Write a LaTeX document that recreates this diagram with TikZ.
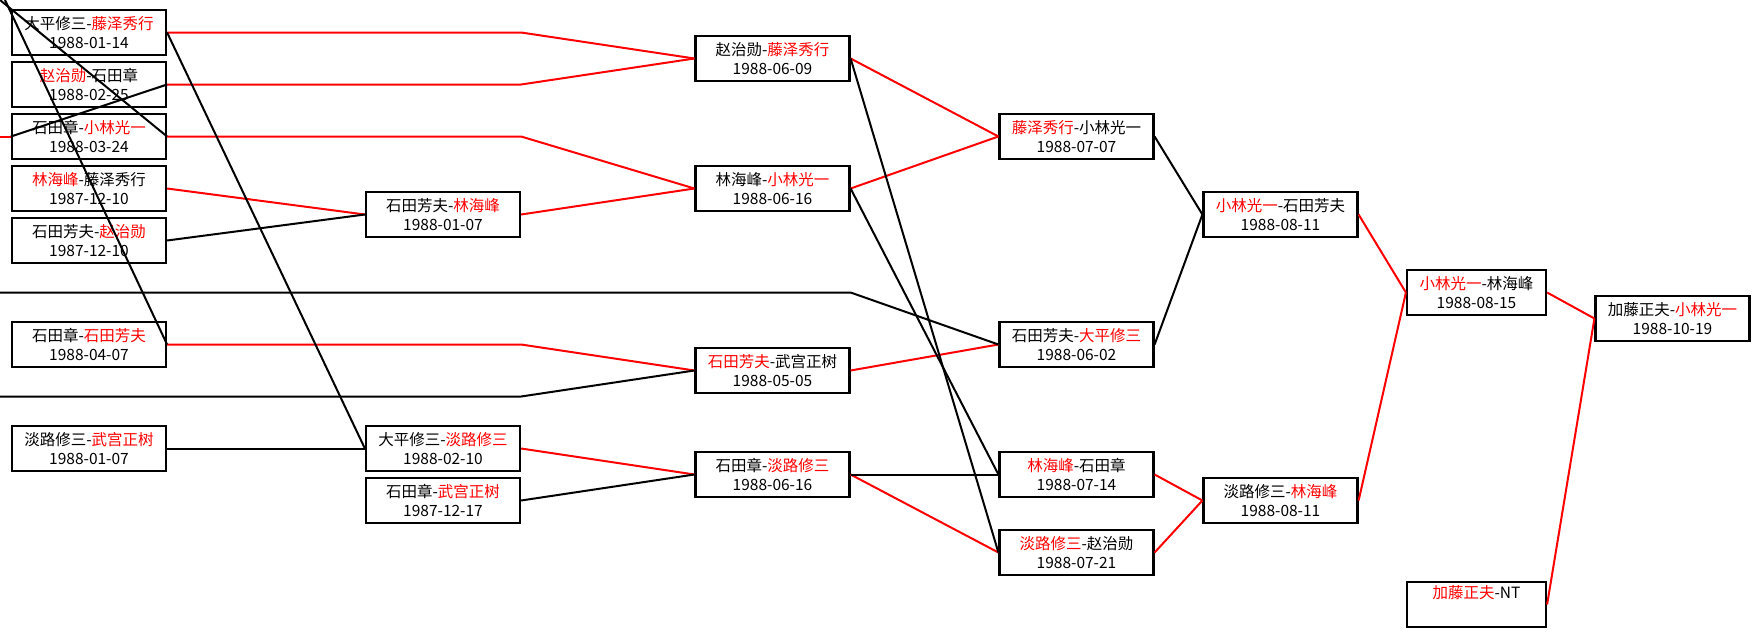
\documentclass[tikz,border=0pt]{standalone}
\usepackage{fontspec}
\setmainfont{Noto Sans CJK SC}
\usepackage{xcolor}
\usetikzlibrary{positioning}

\newcommand{\wn}[1]{\textcolor{red}{#1}}

\begin{document}
\begin{tikzpicture}[x=1pt, y=-1pt,
  game/.style={draw, line width=2.2pt, minimum width=154pt, minimum height=45pt, inner sep=0pt, align=center, font=\fontsize{15.5}{19}\selectfont},
  shortgame/.style={game, minimum width=139pt},
  win/.style={draw=red, line width=2pt},
  lose/.style={draw=black, line width=2pt},
]
\fill[white] (0,0) rectangle (1760,637);
\useasboundingbox (0,0) rectangle (1760,637);

% Column 1
\node[game] (a1) at (89,32.5) {大平修三-\wn{藤泽秀行}\\1988-01-14};
\node[game] (a2) at (89,84.5) {\wn{赵治勋}-石田章\\1988-02-25};
\node[game] (a3) at (89,136.5) {石田章-\wn{小林光一}\\1988-03-24};
\node[game] (a4) at (89,188.5) {\wn{林海峰}-藤泽秀行\\1987-12-10};
\node[game] (a5) at (89,240.5) {石田芳夫-\wn{赵治勋}\\1987-12-10};
\node[game] (a6) at (89,344.5) {石田章-\wn{石田芳夫}\\1988-04-07};
\node[game] (a7) at (89,448.5) {淡路修三-\wn{武宫正树}\\1988-01-07};

% Column 2
\node[game] (b1) at (443,214.5) {石田芳夫-\wn{林海峰}\\1988-01-07};
\node[game] (b2) at (443,448.5) {大平修三-\wn{淡路修三}\\1988-02-10};
\node[game] (b3) at (443,500.5) {石田章-\wn{武宫正树}\\1987-12-17};

% Column 3
\node[game] (c1) at (772.5,58.5) {赵治勋-\wn{藤泽秀行}\\1988-06-09};
\node[game] (c2) at (772.5,188.5) {林海峰-\wn{小林光一}\\1988-06-16};
\node[game] (c3) at (772.5,370.5) {\wn{石田芳夫}-武宫正树\\1988-05-05};
\node[game] (c4) at (772.5,474.5) {石田章-\wn{淡路修三}\\1988-06-16};

% Column 4
\node[game] (d1) at (1076.5,136.5) {\wn{藤泽秀行}-小林光一\\1988-07-07};
\node[game] (d2) at (1076.5,344.5) {石田芳夫-\wn{大平修三}\\1988-06-02};
\node[game] (d3) at (1076.5,474.5) {\wn{林海峰}-石田章\\1988-07-14};
\node[game] (d4) at (1076.5,552.5) {\wn{淡路修三}-赵治勋\\1988-07-21};

% Column 5
\node[game] (e1) at (1280.5,214.5) {\wn{小林光一}-石田芳夫\\1988-08-11};
\node[game] (e2) at (1280.5,500.5) {淡路修三-\wn{林海峰}\\1988-08-11};

% Column 6
\node[shortgame] (f1) at (1476.5,292.5) {\wn{小林光一}-林海峰\\1988-08-15};
\node[shortgame] (f2) at (1476.5,604.5) {\wn{加藤正夫}-NT\\\strut};

% Final
\node[game] (g1) at (1672.5,318.5) {加藤正夫-\wn{小林光一}\\1988-10-19};

% Lines coming in from outside the picture
\coordinate (edgeA) at (0,0);
\coordinate (edgeB) at (5,0);
\coordinate (edgeC) at (0,136.5);
\coordinate (edgeD) at (0,292.5);
\coordinate (edgeE) at (0,396.5);

% Winners
\draw[win] (a1.east) -- (a1.east -| b1.east) -- (c1.west);
\draw[win] (a2.east) -- (a2.east -| b1.east) -- (c1.west);
\draw[win] (edgeC) -- (a3.west);
\draw[win] (a3.east) -- (a3.east -| b1.east) -- (c2.west);
\draw[win] (a4.east) -- (b1.west);
\draw[win] (b1.east) -- (c2.west);
\draw[win] (a6.east) -- (a6.east -| b1.east) -- (c3.west);
\draw[win] (b2.east) -- (c4.west);
\draw[win] (c1.east) -- (d1.west);
\draw[win] (c2.east) -- (d1.west);
\draw[win] (c3.east) -- (d2.west);
\draw[win] (c4.east) -- (d4.west);
\draw[win] (d3.east) -- (e2.west);
\draw[win] (d4.east) -- (e2.west);
\draw[win] (e1.east) -- (f1.west);
\draw[win] (e2.east) -- (f1.west);
\draw[win] (f1.east) -- (g1.west);
\draw[win] (f2.east) -- (g1.west);

% Losers
\draw[lose] (edgeA) -- (a3.east);
\draw[lose] (edgeB) -- (a6.east);
\draw[lose] (a3.west) -- (a2.east);
\draw[lose] (a1.east) -- (b2.west);
\draw[lose] (a5.east) -- (b1.west);
\draw[lose] (a7.east) -- (b2.west);
\draw[lose] (edgeD) -- (edgeD -| c1.east) -- (d2.west);
\draw[lose] (edgeE) -- (edgeE -| b1.east) -- (c3.west);
\draw[lose] (b3.east) -- (c4.west);
\draw[lose] (c1.east) -- (d4.west);
\draw[lose] (c2.east) -- (d3.west);
\draw[lose] (c4.east) -- (d3.west);
\draw[lose] (d1.east) -- (e1.west);
\draw[lose] (d2.east) -- (e1.west);
\end{tikzpicture}
\end{document}
